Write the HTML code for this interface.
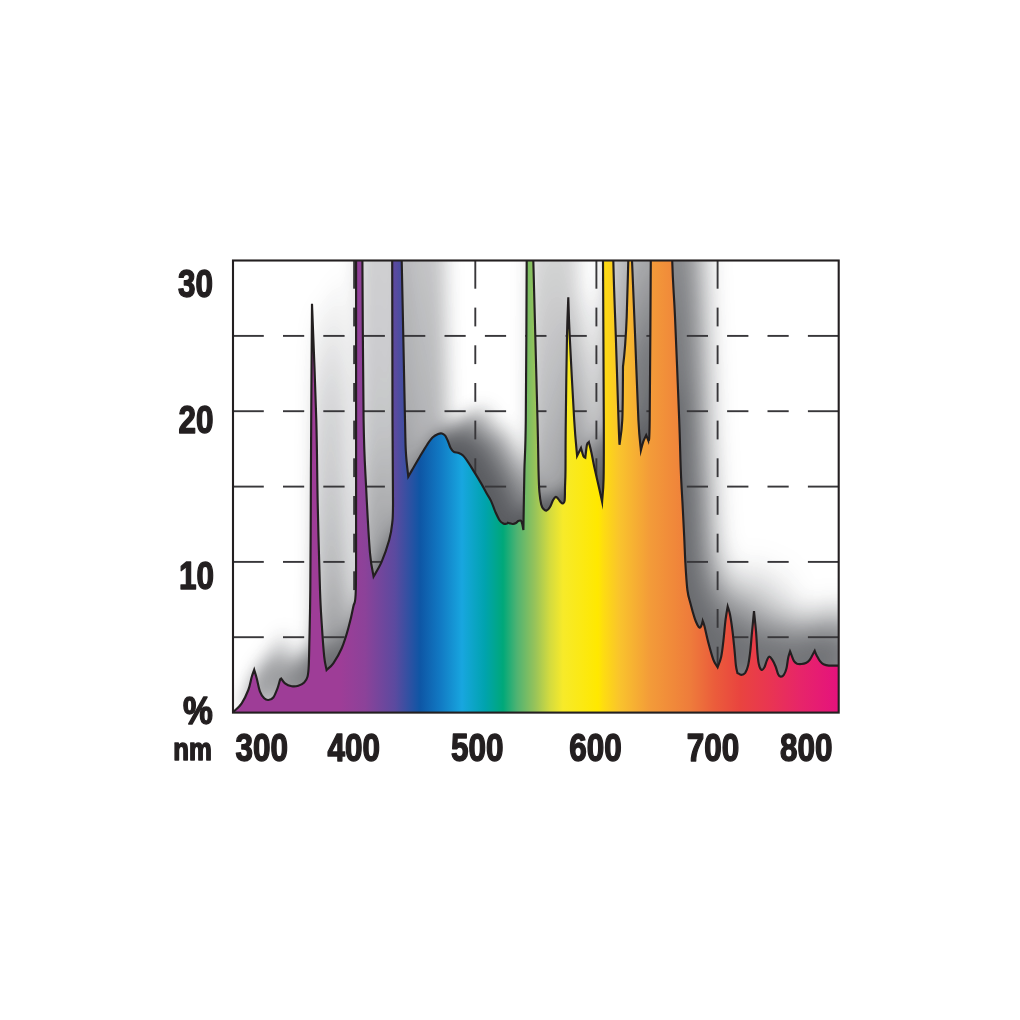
<!DOCTYPE html>
<html><head><meta charset="utf-8"><title>Spectrum</title>
<style>
html,body{margin:0;padding:0;background:#fff;}
body{width:1020px;height:1020px;overflow:hidden;position:relative;}
svg{position:absolute;left:0;top:0;display:block;}
text{font-family:"Liberation Sans",sans-serif;font-weight:bold;fill:#231f20;stroke:#231f20;stroke-linejoin:round;}
</style></head><body>
<svg width="1020" height="1020" viewBox="0 0 1020 1020">
<defs>
<linearGradient id="g" gradientUnits="userSpaceOnUse" x1="233.0" y1="0" x2="838.7" y2="0"><stop offset="0.0000" stop-color="#9e3d97"/><stop offset="0.1767" stop-color="#9e3d97"/><stop offset="0.2179" stop-color="#8c4299"/><stop offset="0.2675" stop-color="#5b4a9f"/><stop offset="0.3087" stop-color="#0e56a5"/><stop offset="0.3418" stop-color="#1179c3"/><stop offset="0.3781" stop-color="#18a6df"/><stop offset="0.4160" stop-color="#00a3ae"/><stop offset="0.4458" stop-color="#00a879"/><stop offset="0.4689" stop-color="#4fb372"/><stop offset="0.4986" stop-color="#97c35a"/><stop offset="0.5234" stop-color="#d4db3f"/><stop offset="0.5448" stop-color="#f7ea2a"/><stop offset="0.6026" stop-color="#ffe800"/><stop offset="0.6109" stop-color="#fedd10"/><stop offset="0.6389" stop-color="#f9c32d"/><stop offset="0.6885" stop-color="#f39b39"/><stop offset="0.7545" stop-color="#ee7c3b"/><stop offset="0.7958" stop-color="#eb5c3b"/><stop offset="0.8370" stop-color="#e9443f"/><stop offset="0.8866" stop-color="#e93552"/><stop offset="0.9361" stop-color="#e72569"/><stop offset="1.0000" stop-color="#e5127d"/></linearGradient>
<clipPath id="cp"><rect x="233.0" y="260.5" width="605.7" height="452.1"/></clipPath>
<path id="shp" d="M233.3 712.0C234.7 710.5 239.2 707.0 241.7 703.3C244.2 699.6 246.6 694.4 248.3 690.0C250.0 685.6 250.7 680.4 251.7 677.0C252.7 673.6 253.8 671.0 254.2 669.8C254.6 671.2 255.7 674.6 256.7 678.3C257.7 682.0 258.8 688.4 260.0 691.7C261.2 695.0 262.8 696.9 264.2 698.3C265.6 699.7 266.8 700.1 268.3 700.0C269.8 699.9 271.8 699.5 273.3 697.5C274.8 695.5 276.4 691.2 277.5 688.3C278.6 685.4 279.4 681.6 280.0 680.0C280.6 678.4 281.1 678.8 281.3 678.6C282.0 679.4 283.3 682.0 285.0 683.3C286.7 684.6 289.5 685.8 291.7 686.2C293.9 686.6 296.2 686.4 298.3 685.8C300.4 685.2 302.7 684.0 304.2 682.5C305.7 681.0 306.7 679.6 307.5 676.7C308.3 673.8 308.5 671.7 308.8 665.0C309.1 658.3 309.2 649.2 309.5 636.7C309.8 624.2 310.1 612.3 310.3 590.0C310.5 567.7 310.7 531.3 310.8 503.0C310.9 474.7 311.0 453.2 311.2 420.0C311.4 386.8 311.9 323.2 312.0 303.8C312.7 323.2 315.4 386.8 316.3 420.0C317.2 453.2 317.1 474.7 317.7 503.0C318.3 531.3 319.3 570.0 320.0 590.0C320.7 610.0 321.0 612.2 321.7 623.3C322.4 634.4 323.4 648.9 324.2 656.7C325.0 664.5 326.2 667.7 326.6 670.0C327.7 668.8 330.8 666.9 333.3 663.3C335.8 659.7 339.2 654.1 341.7 648.3C344.2 642.5 346.4 635.2 348.3 628.3C350.2 621.4 352.1 613.1 353.3 606.7C354.6 600.3 355.3 607.3 355.8 590.0C356.3 572.7 356.0 531.3 356.1 503.0C356.1 474.7 356.1 460.5 356.1 420.0C356.1 379.5 356.1 305.0 356.1 260.0C356.1 215.0 356.1 168.3 356.1 150.0L361.6 150.0C361.7 168.3 362.1 215.0 362.4 260.0C362.7 305.0 363.0 382.2 363.6 420.0C364.2 457.8 365.0 464.8 366.1 487.0C367.2 509.2 368.7 538.1 370.0 553.0C371.3 567.9 373.0 572.6 373.6 576.5C375.0 574.0 379.1 567.8 381.7 561.7C384.3 555.6 387.4 546.4 389.2 540.0C390.9 533.6 391.6 529.4 392.2 523.3C392.8 517.2 392.9 520.5 393.0 503.3C393.1 486.1 392.6 460.6 392.5 420.0C392.4 379.4 392.3 305.0 392.2 260.0C392.1 215.0 392.0 168.3 392.0 150.0L399.2 150.0C399.6 168.3 400.7 215.0 401.7 260.0C402.7 305.0 404.3 387.9 405.0 420.0C405.7 452.1 405.4 442.9 405.9 452.4C406.4 461.9 407.9 472.7 408.3 476.7C409.0 475.5 410.4 472.9 412.3 469.6C414.2 466.3 417.3 460.9 419.8 456.7C422.3 452.5 425.2 447.5 427.4 444.3C429.6 441.1 431.0 439.0 432.8 437.3C434.6 435.6 436.7 434.6 438.2 434.0C439.7 433.4 440.7 433.2 441.9 433.5C443.1 433.8 444.2 434.4 445.2 435.6C446.2 436.9 447.0 438.9 447.9 441.0C448.8 443.1 449.6 446.2 450.6 448.0C451.6 449.8 452.5 451.0 453.8 451.8C455.1 452.6 457.2 452.3 458.7 452.9C460.2 453.5 461.4 454.0 463.0 455.6C464.6 457.2 466.4 459.7 468.4 462.6C470.4 465.5 472.6 469.4 474.8 472.9C477.0 476.4 479.3 480.2 481.3 483.6C483.3 487.0 485.1 490.5 486.7 493.4C488.3 496.3 489.6 497.8 491.0 500.9C492.4 503.9 493.9 508.4 495.3 511.7C496.8 515.0 498.4 518.5 499.7 520.5C501.0 522.5 502.1 522.9 503.2 523.4C504.3 523.9 505.5 523.9 506.3 523.8C507.1 523.7 507.6 523.0 507.8 522.8C508.2 522.9 509.1 523.2 509.9 523.4C510.7 523.6 511.9 524.1 512.9 524.0C513.9 523.9 515.1 523.5 516.0 523.0C516.9 522.5 517.4 521.4 518.2 521.0C519.0 520.6 520.2 520.2 520.9 520.7C521.6 521.2 521.8 522.2 522.2 523.8C522.6 525.4 523.2 529.0 523.4 530.1C523.4 525.9 523.6 515.3 523.8 505.3C524.0 495.3 524.1 484.2 524.4 470.0C524.7 455.8 525.4 455.0 525.8 420.0C526.2 385.0 526.5 305.0 526.7 260.0C526.9 215.0 527.1 168.3 527.2 150.0L530.4 150.0C530.9 168.3 532.1 215.0 533.3 260.0C534.5 305.0 536.6 385.0 537.5 420.0C538.4 455.0 538.2 458.0 538.5 470.0C538.8 482.0 538.9 486.3 539.4 492.0C539.9 497.7 540.5 501.5 541.2 504.4C541.9 507.3 542.9 508.3 543.8 509.3C544.7 510.3 545.5 511.0 546.5 510.6C547.5 510.2 548.9 508.8 550.0 507.0C551.1 505.2 552.1 501.7 553.1 500.0C554.1 498.3 554.9 497.0 555.8 496.9C556.7 496.8 557.6 498.2 558.4 499.1C559.2 500.0 559.9 501.3 560.6 502.0C561.3 502.7 562.1 503.6 562.8 503.4C563.5 503.2 564.2 503.5 564.6 500.9C565.0 498.3 564.9 492.8 565.0 487.6C565.1 482.5 565.4 481.3 565.5 470.0C565.6 458.7 565.5 442.3 565.8 420.0C566.0 397.7 566.6 356.5 567.0 336.0C567.4 315.5 568.1 303.7 568.3 297.2C568.5 303.7 568.7 315.5 569.7 336.0C570.7 356.5 573.0 400.0 574.2 420.0C575.4 440.0 576.6 450.0 577.1 455.9L581.0 448.0C581.4 449.4 582.8 454.7 583.5 456.3C584.2 457.9 585.0 457.5 585.3 457.7C585.6 455.5 586.4 447.1 587.0 444.5C587.6 441.9 588.6 442.6 588.9 442.2C589.3 443.9 590.5 448.3 591.4 452.4C592.3 456.5 593.0 461.0 594.3 467.0C595.6 473.0 597.9 482.8 599.2 488.6C600.5 494.4 601.6 499.5 602.1 501.7C602.3 497.9 603.3 492.4 603.6 478.8C603.9 465.2 603.9 456.5 603.8 420.0C603.7 383.5 603.2 305.0 603.0 260.0C602.8 215.0 602.6 168.3 602.5 150.0L611.6 150.0C611.9 168.3 612.6 229.0 613.3 260.0C614.0 291.0 614.9 309.3 615.8 336.0C616.7 362.7 617.9 401.9 618.5 420.0C619.1 438.1 619.3 440.6 619.5 444.8C620.0 440.6 621.7 433.0 622.3 420.0C622.9 407.0 622.9 375.6 623.0 366.7C623.4 363.4 624.4 355.0 625.0 346.7C625.6 338.4 626.2 331.1 626.7 316.7C627.2 302.2 627.8 279.4 628.3 260.0C628.8 240.6 629.5 210.0 629.8 200.0L630.4 200.0C630.7 210.0 631.2 237.8 632.0 260.0C632.8 282.2 633.9 306.6 635.0 333.3C636.1 360.0 637.4 400.5 638.4 420.0C639.4 439.5 640.5 445.2 640.9 450.3C641.3 448.8 642.4 444.1 643.3 441.6C644.2 439.1 645.7 436.3 646.2 435.2L648.3 440.4C648.6 437.0 649.3 450.1 649.7 420.0C650.1 389.9 650.5 305.0 650.8 260.0C651.1 215.0 651.4 168.3 651.5 150.0L670.3 150.0C670.6 168.3 671.4 232.2 672.2 260.0C673.0 287.8 673.8 290.0 675.0 316.7C676.2 343.4 678.2 394.4 679.2 420.0C680.2 445.6 680.2 456.1 680.8 470.0C681.3 483.9 681.9 492.2 682.5 503.3C683.1 514.4 683.7 527.0 684.2 536.7C684.7 546.4 684.8 552.8 685.3 561.7C685.8 570.6 686.5 582.8 687.4 590.0C688.3 597.2 689.6 600.0 690.8 604.7C692.0 609.4 693.6 615.0 694.7 618.4C695.8 621.8 696.8 623.8 697.6 625.3C698.4 626.8 699.0 627.5 699.6 627.7C700.2 627.9 700.6 627.4 701.1 626.3C701.6 625.2 702.5 621.9 702.7 621.0C703.0 621.9 703.6 622.7 704.5 626.3C705.4 629.9 706.9 637.3 708.4 642.9C709.9 648.5 711.8 655.5 713.3 659.6C714.8 663.7 716.9 666.1 717.6 667.3C718.2 665.6 720.2 661.4 721.2 656.7C722.2 652.0 722.9 645.2 723.6 639.0C724.3 632.8 724.9 624.8 725.6 619.4C726.3 614.0 727.3 608.6 727.7 606.5C728.1 607.8 729.2 610.4 730.0 614.5C730.8 618.6 731.8 625.5 732.5 631.2C733.2 636.9 733.8 643.1 734.4 648.8C735.0 654.5 735.4 661.5 735.9 665.5C736.4 669.5 737.2 671.7 737.4 672.9C738.1 673.2 740.0 674.8 741.3 674.8C742.6 674.8 744.1 674.3 745.2 672.8C746.3 671.2 747.3 668.9 748.1 665.5C748.9 662.1 749.4 658.4 750.1 652.7C750.8 647.0 751.4 638.1 752.1 631.2C752.8 624.3 753.7 614.5 754.0 611.1C754.3 614.5 755.4 624.1 756.0 631.2C756.6 638.3 757.0 648.2 757.5 653.7C758.0 659.2 758.2 661.8 758.9 664.5C759.5 667.2 760.5 669.4 761.4 669.9C762.3 670.4 763.4 669.0 764.3 667.5C765.2 666.0 766.0 662.4 766.8 660.6C767.6 658.8 768.1 656.9 769.0 656.7C769.9 656.5 771.1 658.0 772.2 659.6C773.3 661.2 774.6 664.0 775.6 666.5C776.6 669.0 777.4 672.8 778.3 674.5C779.1 676.2 779.8 676.5 780.7 676.6C781.6 676.7 782.8 676.3 783.8 674.9C784.8 673.5 785.8 671.2 786.5 668.3C787.2 665.4 787.6 660.5 788.2 657.7C788.8 654.9 789.8 652.3 790.1 651.3C790.4 652.0 791.1 654.2 791.8 655.9C792.5 657.6 793.1 659.9 794.0 661.2C794.9 662.5 795.9 663.2 797.1 663.7C798.4 664.2 800.0 664.1 801.5 664.0C803.0 663.9 804.6 663.6 805.9 663.0C807.2 662.4 808.3 661.6 809.4 660.3C810.5 659.0 811.6 656.6 812.5 655.0C813.4 653.4 814.3 651.6 814.7 650.9C815.0 651.8 816.0 654.2 816.9 655.9C817.8 657.6 818.9 659.8 820.0 661.2C821.1 662.6 822.0 663.6 823.5 664.3C825.0 665.0 826.3 665.4 828.8 665.6C831.3 665.8 837.1 665.6 838.7 665.6L838.7 712.6L233 712.6Z"/>
<filter id="fza" filterUnits="userSpaceOnUse" x="100" y="100" width="880" height="780" color-interpolation-filters="sRGB">
<feOffset in="SourceGraphic" dx="1" dy="-1" result="o0"/><feComposite in="SourceGraphic" in2="o0" operator="arithmetic" k1="0" k2="0.5" k3="0.5" k4="0" result="a0"/>
<feOffset in="a0" dx="2" dy="-3" result="o1"/><feComposite in="a0" in2="o1" operator="arithmetic" k1="0" k2="0.5" k3="0.5" k4="0" result="a1"/>
<feOffset in="a1" dx="4" dy="-6" result="o2"/><feComposite in="a1" in2="o2" operator="arithmetic" k1="0" k2="0.5" k3="0.5" k4="0" result="a2"/>
<feOffset in="a2" dx="8" dy="-11" result="o3"/><feComposite in="a2" in2="o3" operator="arithmetic" k1="0" k2="0.5" k3="0.5" k4="0" result="a3"/>
<feOffset in="a3" dx="17" dy="-23" result="o4"/><feComposite in="a3" in2="o4" operator="arithmetic" k1="0" k2="0.5" k3="0.5" k4="0" result="a4"/>
<feGaussianBlur in="a4" stdDeviation="9"/><feComponentTransfer><feFuncA type="table" tableValues="0.000 0.060 0.118 0.172 0.223 0.271 0.316 0.358 0.397 0.432 0.465 0.494 0.521 0.544 0.564 0.581 0.595 0.606 0.614 0.618 0.620"/></feComponentTransfer>
</filter>
<clipPath id="cza"><rect x="233.0" y="260.5" width="164.0" height="452.1"/></clipPath>
<filter id="fzb" filterUnits="userSpaceOnUse" x="100" y="100" width="880" height="780" color-interpolation-filters="sRGB">
<feOffset in="SourceGraphic" dx="1" dy="-1" result="o0"/><feComposite in="SourceGraphic" in2="o0" operator="arithmetic" k1="0" k2="0.5" k3="0.5" k4="0" result="a0"/>
<feOffset in="a0" dx="3" dy="-2" result="o1"/><feComposite in="a0" in2="o1" operator="arithmetic" k1="0" k2="0.5" k3="0.5" k4="0" result="a1"/>
<feOffset in="a1" dx="6" dy="-3" result="o2"/><feComposite in="a1" in2="o2" operator="arithmetic" k1="0" k2="0.5" k3="0.5" k4="0" result="a2"/>
<feOffset in="a2" dx="12" dy="-8" result="o3"/><feComposite in="a2" in2="o3" operator="arithmetic" k1="0" k2="0.5" k3="0.5" k4="0" result="a3"/>
<feOffset in="a3" dx="24" dy="-14" result="o4"/><feComposite in="a3" in2="o4" operator="arithmetic" k1="0" k2="0.5" k3="0.5" k4="0" result="a4"/>
<feGaussianBlur in="a4" stdDeviation="9"/><feComponentTransfer><feFuncA type="table" tableValues="0.000 0.068 0.133 0.194 0.252 0.306 0.357 0.404 0.448 0.488 0.525 0.558 0.588 0.614 0.637 0.656 0.672 0.684 0.693 0.698 0.700"/></feComponentTransfer>
</filter>
<clipPath id="czb"><rect x="397.0" y="260.5" width="263.0" height="452.1"/></clipPath>
<filter id="fzc" filterUnits="userSpaceOnUse" x="100" y="100" width="880" height="780" color-interpolation-filters="sRGB">
<feOffset in="SourceGraphic" dx="1" dy="-2" result="o0"/><feComposite in="SourceGraphic" in2="o0" operator="arithmetic" k1="0" k2="0.5" k3="0.5" k4="0" result="a0"/>
<feOffset in="a0" dx="2" dy="-3" result="o1"/><feComposite in="a0" in2="o1" operator="arithmetic" k1="0" k2="0.5" k3="0.5" k4="0" result="a1"/>
<feOffset in="a1" dx="4" dy="-8" result="o2"/><feComposite in="a1" in2="o2" operator="arithmetic" k1="0" k2="0.5" k3="0.5" k4="0" result="a2"/>
<feOffset in="a2" dx="8" dy="-14" result="o3"/><feComposite in="a2" in2="o3" operator="arithmetic" k1="0" k2="0.5" k3="0.5" k4="0" result="a3"/>
<feOffset in="a3" dx="16" dy="-29" result="o4"/><feComposite in="a3" in2="o4" operator="arithmetic" k1="0" k2="0.5" k3="0.5" k4="0" result="a4"/>
<feGaussianBlur in="a4" stdDeviation="14"/><feComponentTransfer><feFuncA type="table" tableValues="0.000 0.062 0.122 0.178 0.230 0.280 0.326 0.370 0.410 0.446 0.480 0.510 0.538 0.562 0.582 0.600 0.614 0.626 0.634 0.638 0.640"/></feComponentTransfer>
</filter>
<clipPath id="czc"><rect x="660.0" y="260.5" width="178.70000000000005" height="452.1"/></clipPath>

</defs>
<rect x="0" y="0" width="1020" height="1020" fill="#fff"/>
<g clip-path="url(#cza)"><g filter="url(#fza)"><use href="#shp" fill="#13161c"/></g></g>
<g clip-path="url(#czb)"><g filter="url(#fzb)"><use href="#shp" fill="#13161c"/></g></g>
<g clip-path="url(#czc)"><g filter="url(#fzc)"><use href="#shp" fill="#13161c"/></g></g>

<g stroke="#38373a" stroke-width="1.9" fill="none"><line x1="233.0" y1="335.9" x2="263.8" y2="335.9"/><line x1="283.0" y1="335.9" x2="304.2" y2="335.9"/><line x1="323.3" y1="335.9" x2="344.6" y2="335.9"/><line x1="363.7" y1="335.9" x2="384.9" y2="335.9"/><line x1="404.1" y1="335.9" x2="425.3" y2="335.9"/><line x1="444.5" y1="335.9" x2="465.7" y2="335.9"/><line x1="484.9" y1="335.9" x2="506.1" y2="335.9"/><line x1="525.2" y1="335.9" x2="546.5" y2="335.9"/><line x1="565.6" y1="335.9" x2="586.8" y2="335.9"/><line x1="606.0" y1="335.9" x2="627.2" y2="335.9"/><line x1="646.4" y1="335.9" x2="667.6" y2="335.9"/><line x1="686.8" y1="335.9" x2="708.0" y2="335.9"/><line x1="727.1" y1="335.9" x2="748.4" y2="335.9"/><line x1="767.5" y1="335.9" x2="788.7" y2="335.9"/><line x1="807.9" y1="335.9" x2="838.7" y2="335.9"/><line x1="233.0" y1="411.2" x2="263.8" y2="411.2"/><line x1="283.0" y1="411.2" x2="304.2" y2="411.2"/><line x1="323.3" y1="411.2" x2="344.6" y2="411.2"/><line x1="363.7" y1="411.2" x2="384.9" y2="411.2"/><line x1="404.1" y1="411.2" x2="425.3" y2="411.2"/><line x1="444.5" y1="411.2" x2="465.7" y2="411.2"/><line x1="484.9" y1="411.2" x2="506.1" y2="411.2"/><line x1="525.2" y1="411.2" x2="546.5" y2="411.2"/><line x1="565.6" y1="411.2" x2="586.8" y2="411.2"/><line x1="606.0" y1="411.2" x2="627.2" y2="411.2"/><line x1="646.4" y1="411.2" x2="667.6" y2="411.2"/><line x1="686.8" y1="411.2" x2="708.0" y2="411.2"/><line x1="727.1" y1="411.2" x2="748.4" y2="411.2"/><line x1="767.5" y1="411.2" x2="788.7" y2="411.2"/><line x1="807.9" y1="411.2" x2="838.7" y2="411.2"/><line x1="233.0" y1="486.6" x2="263.8" y2="486.6"/><line x1="283.0" y1="486.6" x2="304.2" y2="486.6"/><line x1="323.3" y1="486.6" x2="344.6" y2="486.6"/><line x1="363.7" y1="486.6" x2="384.9" y2="486.6"/><line x1="404.1" y1="486.6" x2="425.3" y2="486.6"/><line x1="444.5" y1="486.6" x2="465.7" y2="486.6"/><line x1="484.9" y1="486.6" x2="506.1" y2="486.6"/><line x1="525.2" y1="486.6" x2="546.5" y2="486.6"/><line x1="565.6" y1="486.6" x2="586.8" y2="486.6"/><line x1="606.0" y1="486.6" x2="627.2" y2="486.6"/><line x1="646.4" y1="486.6" x2="667.6" y2="486.6"/><line x1="686.8" y1="486.6" x2="708.0" y2="486.6"/><line x1="727.1" y1="486.6" x2="748.4" y2="486.6"/><line x1="767.5" y1="486.6" x2="788.7" y2="486.6"/><line x1="807.9" y1="486.6" x2="838.7" y2="486.6"/><line x1="233.0" y1="561.9" x2="263.8" y2="561.9"/><line x1="283.0" y1="561.9" x2="304.2" y2="561.9"/><line x1="323.3" y1="561.9" x2="344.6" y2="561.9"/><line x1="363.7" y1="561.9" x2="384.9" y2="561.9"/><line x1="404.1" y1="561.9" x2="425.3" y2="561.9"/><line x1="444.5" y1="561.9" x2="465.7" y2="561.9"/><line x1="484.9" y1="561.9" x2="506.1" y2="561.9"/><line x1="525.2" y1="561.9" x2="546.5" y2="561.9"/><line x1="565.6" y1="561.9" x2="586.8" y2="561.9"/><line x1="606.0" y1="561.9" x2="627.2" y2="561.9"/><line x1="646.4" y1="561.9" x2="667.6" y2="561.9"/><line x1="686.8" y1="561.9" x2="708.0" y2="561.9"/><line x1="727.1" y1="561.9" x2="748.4" y2="561.9"/><line x1="767.5" y1="561.9" x2="788.7" y2="561.9"/><line x1="807.9" y1="561.9" x2="838.7" y2="561.9"/><line x1="233.0" y1="637.2" x2="263.8" y2="637.2"/><line x1="283.0" y1="637.2" x2="304.2" y2="637.2"/><line x1="323.3" y1="637.2" x2="344.6" y2="637.2"/><line x1="363.7" y1="637.2" x2="384.9" y2="637.2"/><line x1="404.1" y1="637.2" x2="425.3" y2="637.2"/><line x1="444.5" y1="637.2" x2="465.7" y2="637.2"/><line x1="484.9" y1="637.2" x2="506.1" y2="637.2"/><line x1="525.2" y1="637.2" x2="546.5" y2="637.2"/><line x1="565.6" y1="637.2" x2="586.8" y2="637.2"/><line x1="606.0" y1="637.2" x2="627.2" y2="637.2"/><line x1="646.4" y1="637.2" x2="667.6" y2="637.2"/><line x1="686.8" y1="637.2" x2="708.0" y2="637.2"/><line x1="727.1" y1="637.2" x2="748.4" y2="637.2"/><line x1="767.5" y1="637.2" x2="788.7" y2="637.2"/><line x1="807.9" y1="637.2" x2="838.7" y2="637.2"/><line x1="354.1" y1="260.5" x2="354.1" y2="288.7"/><line x1="354.1" y1="307.6" x2="354.1" y2="326.4"/><line x1="354.1" y1="345.3" x2="354.1" y2="364.1"/><line x1="354.1" y1="383.0" x2="354.1" y2="401.8"/><line x1="354.1" y1="420.6" x2="354.1" y2="439.4"/><line x1="354.1" y1="458.3" x2="354.1" y2="477.1"/><line x1="354.1" y1="496.0" x2="354.1" y2="514.8"/><line x1="354.1" y1="533.7" x2="354.1" y2="552.5"/><line x1="354.1" y1="571.3" x2="354.1" y2="590.1"/><line x1="354.1" y1="609.0" x2="354.1" y2="627.8"/><line x1="354.1" y1="646.7" x2="354.1" y2="665.5"/><line x1="354.1" y1="684.4" x2="354.1" y2="712.6"/><line x1="475.3" y1="260.5" x2="475.3" y2="288.7"/><line x1="475.3" y1="307.6" x2="475.3" y2="326.4"/><line x1="475.3" y1="345.3" x2="475.3" y2="364.1"/><line x1="475.3" y1="383.0" x2="475.3" y2="401.8"/><line x1="475.3" y1="420.6" x2="475.3" y2="439.4"/><line x1="475.3" y1="458.3" x2="475.3" y2="477.1"/><line x1="475.3" y1="496.0" x2="475.3" y2="514.8"/><line x1="475.3" y1="533.7" x2="475.3" y2="552.5"/><line x1="475.3" y1="571.3" x2="475.3" y2="590.1"/><line x1="475.3" y1="609.0" x2="475.3" y2="627.8"/><line x1="475.3" y1="646.7" x2="475.3" y2="665.5"/><line x1="475.3" y1="684.4" x2="475.3" y2="712.6"/><line x1="596.4" y1="260.5" x2="596.4" y2="288.7"/><line x1="596.4" y1="307.6" x2="596.4" y2="326.4"/><line x1="596.4" y1="345.3" x2="596.4" y2="364.1"/><line x1="596.4" y1="383.0" x2="596.4" y2="401.8"/><line x1="596.4" y1="420.6" x2="596.4" y2="439.4"/><line x1="596.4" y1="458.3" x2="596.4" y2="477.1"/><line x1="596.4" y1="496.0" x2="596.4" y2="514.8"/><line x1="596.4" y1="533.7" x2="596.4" y2="552.5"/><line x1="596.4" y1="571.3" x2="596.4" y2="590.1"/><line x1="596.4" y1="609.0" x2="596.4" y2="627.8"/><line x1="596.4" y1="646.7" x2="596.4" y2="665.5"/><line x1="596.4" y1="684.4" x2="596.4" y2="712.6"/><line x1="717.6" y1="260.5" x2="717.6" y2="288.7"/><line x1="717.6" y1="307.6" x2="717.6" y2="326.4"/><line x1="717.6" y1="345.3" x2="717.6" y2="364.1"/><line x1="717.6" y1="383.0" x2="717.6" y2="401.8"/><line x1="717.6" y1="420.6" x2="717.6" y2="439.4"/><line x1="717.6" y1="458.3" x2="717.6" y2="477.1"/><line x1="717.6" y1="496.0" x2="717.6" y2="514.8"/><line x1="717.6" y1="533.7" x2="717.6" y2="552.5"/><line x1="717.6" y1="571.3" x2="717.6" y2="590.1"/><line x1="717.6" y1="609.0" x2="717.6" y2="627.8"/><line x1="717.6" y1="646.7" x2="717.6" y2="665.5"/><line x1="717.6" y1="684.4" x2="717.6" y2="712.6"/></g>
<g clip-path="url(#cp)">
<path d="M233.3 712.0C234.7 710.5 239.2 707.0 241.7 703.3C244.2 699.6 246.6 694.4 248.3 690.0C250.0 685.6 250.7 680.4 251.7 677.0C252.7 673.6 253.8 671.0 254.2 669.8C254.6 671.2 255.7 674.6 256.7 678.3C257.7 682.0 258.8 688.4 260.0 691.7C261.2 695.0 262.8 696.9 264.2 698.3C265.6 699.7 266.8 700.1 268.3 700.0C269.8 699.9 271.8 699.5 273.3 697.5C274.8 695.5 276.4 691.2 277.5 688.3C278.6 685.4 279.4 681.6 280.0 680.0C280.6 678.4 281.1 678.8 281.3 678.6C282.0 679.4 283.3 682.0 285.0 683.3C286.7 684.6 289.5 685.8 291.7 686.2C293.9 686.6 296.2 686.4 298.3 685.8C300.4 685.2 302.7 684.0 304.2 682.5C305.7 681.0 306.7 679.6 307.5 676.7C308.3 673.8 308.5 671.7 308.8 665.0C309.1 658.3 309.2 649.2 309.5 636.7C309.8 624.2 310.1 612.3 310.3 590.0C310.5 567.7 310.7 531.3 310.8 503.0C310.9 474.7 311.0 453.2 311.2 420.0C311.4 386.8 311.9 323.2 312.0 303.8C312.7 323.2 315.4 386.8 316.3 420.0C317.2 453.2 317.1 474.7 317.7 503.0C318.3 531.3 319.3 570.0 320.0 590.0C320.7 610.0 321.0 612.2 321.7 623.3C322.4 634.4 323.4 648.9 324.2 656.7C325.0 664.5 326.2 667.7 326.6 670.0C327.7 668.8 330.8 666.9 333.3 663.3C335.8 659.7 339.2 654.1 341.7 648.3C344.2 642.5 346.4 635.2 348.3 628.3C350.2 621.4 352.1 613.1 353.3 606.7C354.6 600.3 355.3 607.3 355.8 590.0C356.3 572.7 356.0 531.3 356.1 503.0C356.1 474.7 356.1 460.5 356.1 420.0C356.1 379.5 356.1 305.0 356.1 260.0C356.1 215.0 356.1 168.3 356.1 150.0L361.6 150.0C361.7 168.3 362.1 215.0 362.4 260.0C362.7 305.0 363.0 382.2 363.6 420.0C364.2 457.8 365.0 464.8 366.1 487.0C367.2 509.2 368.7 538.1 370.0 553.0C371.3 567.9 373.0 572.6 373.6 576.5C375.0 574.0 379.1 567.8 381.7 561.7C384.3 555.6 387.4 546.4 389.2 540.0C390.9 533.6 391.6 529.4 392.2 523.3C392.8 517.2 392.9 520.5 393.0 503.3C393.1 486.1 392.6 460.6 392.5 420.0C392.4 379.4 392.3 305.0 392.2 260.0C392.1 215.0 392.0 168.3 392.0 150.0L399.2 150.0C399.6 168.3 400.7 215.0 401.7 260.0C402.7 305.0 404.3 387.9 405.0 420.0C405.7 452.1 405.4 442.9 405.9 452.4C406.4 461.9 407.9 472.7 408.3 476.7C409.0 475.5 410.4 472.9 412.3 469.6C414.2 466.3 417.3 460.9 419.8 456.7C422.3 452.5 425.2 447.5 427.4 444.3C429.6 441.1 431.0 439.0 432.8 437.3C434.6 435.6 436.7 434.6 438.2 434.0C439.7 433.4 440.7 433.2 441.9 433.5C443.1 433.8 444.2 434.4 445.2 435.6C446.2 436.9 447.0 438.9 447.9 441.0C448.8 443.1 449.6 446.2 450.6 448.0C451.6 449.8 452.5 451.0 453.8 451.8C455.1 452.6 457.2 452.3 458.7 452.9C460.2 453.5 461.4 454.0 463.0 455.6C464.6 457.2 466.4 459.7 468.4 462.6C470.4 465.5 472.6 469.4 474.8 472.9C477.0 476.4 479.3 480.2 481.3 483.6C483.3 487.0 485.1 490.5 486.7 493.4C488.3 496.3 489.6 497.8 491.0 500.9C492.4 503.9 493.9 508.4 495.3 511.7C496.8 515.0 498.4 518.5 499.7 520.5C501.0 522.5 502.1 522.9 503.2 523.4C504.3 523.9 505.5 523.9 506.3 523.8C507.1 523.7 507.6 523.0 507.8 522.8C508.2 522.9 509.1 523.2 509.9 523.4C510.7 523.6 511.9 524.1 512.9 524.0C513.9 523.9 515.1 523.5 516.0 523.0C516.9 522.5 517.4 521.4 518.2 521.0C519.0 520.6 520.2 520.2 520.9 520.7C521.6 521.2 521.8 522.2 522.2 523.8C522.6 525.4 523.2 529.0 523.4 530.1C523.4 525.9 523.6 515.3 523.8 505.3C524.0 495.3 524.1 484.2 524.4 470.0C524.7 455.8 525.4 455.0 525.8 420.0C526.2 385.0 526.5 305.0 526.7 260.0C526.9 215.0 527.1 168.3 527.2 150.0L530.4 150.0C530.9 168.3 532.1 215.0 533.3 260.0C534.5 305.0 536.6 385.0 537.5 420.0C538.4 455.0 538.2 458.0 538.5 470.0C538.8 482.0 538.9 486.3 539.4 492.0C539.9 497.7 540.5 501.5 541.2 504.4C541.9 507.3 542.9 508.3 543.8 509.3C544.7 510.3 545.5 511.0 546.5 510.6C547.5 510.2 548.9 508.8 550.0 507.0C551.1 505.2 552.1 501.7 553.1 500.0C554.1 498.3 554.9 497.0 555.8 496.9C556.7 496.8 557.6 498.2 558.4 499.1C559.2 500.0 559.9 501.3 560.6 502.0C561.3 502.7 562.1 503.6 562.8 503.4C563.5 503.2 564.2 503.5 564.6 500.9C565.0 498.3 564.9 492.8 565.0 487.6C565.1 482.5 565.4 481.3 565.5 470.0C565.6 458.7 565.5 442.3 565.8 420.0C566.0 397.7 566.6 356.5 567.0 336.0C567.4 315.5 568.1 303.7 568.3 297.2C568.5 303.7 568.7 315.5 569.7 336.0C570.7 356.5 573.0 400.0 574.2 420.0C575.4 440.0 576.6 450.0 577.1 455.9L581.0 448.0C581.4 449.4 582.8 454.7 583.5 456.3C584.2 457.9 585.0 457.5 585.3 457.7C585.6 455.5 586.4 447.1 587.0 444.5C587.6 441.9 588.6 442.6 588.9 442.2C589.3 443.9 590.5 448.3 591.4 452.4C592.3 456.5 593.0 461.0 594.3 467.0C595.6 473.0 597.9 482.8 599.2 488.6C600.5 494.4 601.6 499.5 602.1 501.7C602.3 497.9 603.3 492.4 603.6 478.8C603.9 465.2 603.9 456.5 603.8 420.0C603.7 383.5 603.2 305.0 603.0 260.0C602.8 215.0 602.6 168.3 602.5 150.0L611.6 150.0C611.9 168.3 612.6 229.0 613.3 260.0C614.0 291.0 614.9 309.3 615.8 336.0C616.7 362.7 617.9 401.9 618.5 420.0C619.1 438.1 619.3 440.6 619.5 444.8C620.0 440.6 621.7 433.0 622.3 420.0C622.9 407.0 622.9 375.6 623.0 366.7C623.4 363.4 624.4 355.0 625.0 346.7C625.6 338.4 626.2 331.1 626.7 316.7C627.2 302.2 627.8 279.4 628.3 260.0C628.8 240.6 629.5 210.0 629.8 200.0L630.4 200.0C630.7 210.0 631.2 237.8 632.0 260.0C632.8 282.2 633.9 306.6 635.0 333.3C636.1 360.0 637.4 400.5 638.4 420.0C639.4 439.5 640.5 445.2 640.9 450.3C641.3 448.8 642.4 444.1 643.3 441.6C644.2 439.1 645.7 436.3 646.2 435.2L648.3 440.4C648.6 437.0 649.3 450.1 649.7 420.0C650.1 389.9 650.5 305.0 650.8 260.0C651.1 215.0 651.4 168.3 651.5 150.0L670.3 150.0C670.6 168.3 671.4 232.2 672.2 260.0C673.0 287.8 673.8 290.0 675.0 316.7C676.2 343.4 678.2 394.4 679.2 420.0C680.2 445.6 680.2 456.1 680.8 470.0C681.3 483.9 681.9 492.2 682.5 503.3C683.1 514.4 683.7 527.0 684.2 536.7C684.7 546.4 684.8 552.8 685.3 561.7C685.8 570.6 686.5 582.8 687.4 590.0C688.3 597.2 689.6 600.0 690.8 604.7C692.0 609.4 693.6 615.0 694.7 618.4C695.8 621.8 696.8 623.8 697.6 625.3C698.4 626.8 699.0 627.5 699.6 627.7C700.2 627.9 700.6 627.4 701.1 626.3C701.6 625.2 702.5 621.9 702.7 621.0C703.0 621.9 703.6 622.7 704.5 626.3C705.4 629.9 706.9 637.3 708.4 642.9C709.9 648.5 711.8 655.5 713.3 659.6C714.8 663.7 716.9 666.1 717.6 667.3C718.2 665.6 720.2 661.4 721.2 656.7C722.2 652.0 722.9 645.2 723.6 639.0C724.3 632.8 724.9 624.8 725.6 619.4C726.3 614.0 727.3 608.6 727.7 606.5C728.1 607.8 729.2 610.4 730.0 614.5C730.8 618.6 731.8 625.5 732.5 631.2C733.2 636.9 733.8 643.1 734.4 648.8C735.0 654.5 735.4 661.5 735.9 665.5C736.4 669.5 737.2 671.7 737.4 672.9C738.1 673.2 740.0 674.8 741.3 674.8C742.6 674.8 744.1 674.3 745.2 672.8C746.3 671.2 747.3 668.9 748.1 665.5C748.9 662.1 749.4 658.4 750.1 652.7C750.8 647.0 751.4 638.1 752.1 631.2C752.8 624.3 753.7 614.5 754.0 611.1C754.3 614.5 755.4 624.1 756.0 631.2C756.6 638.3 757.0 648.2 757.5 653.7C758.0 659.2 758.2 661.8 758.9 664.5C759.5 667.2 760.5 669.4 761.4 669.9C762.3 670.4 763.4 669.0 764.3 667.5C765.2 666.0 766.0 662.4 766.8 660.6C767.6 658.8 768.1 656.9 769.0 656.7C769.9 656.5 771.1 658.0 772.2 659.6C773.3 661.2 774.6 664.0 775.6 666.5C776.6 669.0 777.4 672.8 778.3 674.5C779.1 676.2 779.8 676.5 780.7 676.6C781.6 676.7 782.8 676.3 783.8 674.9C784.8 673.5 785.8 671.2 786.5 668.3C787.2 665.4 787.6 660.5 788.2 657.7C788.8 654.9 789.8 652.3 790.1 651.3C790.4 652.0 791.1 654.2 791.8 655.9C792.5 657.6 793.1 659.9 794.0 661.2C794.9 662.5 795.9 663.2 797.1 663.7C798.4 664.2 800.0 664.1 801.5 664.0C803.0 663.9 804.6 663.6 805.9 663.0C807.2 662.4 808.3 661.6 809.4 660.3C810.5 659.0 811.6 656.6 812.5 655.0C813.4 653.4 814.3 651.6 814.7 650.9C815.0 651.8 816.0 654.2 816.9 655.9C817.8 657.6 818.9 659.8 820.0 661.2C821.1 662.6 822.0 663.6 823.5 664.3C825.0 665.0 826.3 665.4 828.8 665.6C831.3 665.8 837.1 665.6 838.7 665.6L838.7 712.6L233 712.6Z" fill="url(#g)"/>
<path d="M233.3 712.0C234.7 710.5 239.2 707.0 241.7 703.3C244.2 699.6 246.6 694.4 248.3 690.0C250.0 685.6 250.7 680.4 251.7 677.0C252.7 673.6 253.8 671.0 254.2 669.8C254.6 671.2 255.7 674.6 256.7 678.3C257.7 682.0 258.8 688.4 260.0 691.7C261.2 695.0 262.8 696.9 264.2 698.3C265.6 699.7 266.8 700.1 268.3 700.0C269.8 699.9 271.8 699.5 273.3 697.5C274.8 695.5 276.4 691.2 277.5 688.3C278.6 685.4 279.4 681.6 280.0 680.0C280.6 678.4 281.1 678.8 281.3 678.6C282.0 679.4 283.3 682.0 285.0 683.3C286.7 684.6 289.5 685.8 291.7 686.2C293.9 686.6 296.2 686.4 298.3 685.8C300.4 685.2 302.7 684.0 304.2 682.5C305.7 681.0 306.7 679.6 307.5 676.7C308.3 673.8 308.5 671.7 308.8 665.0C309.1 658.3 309.2 649.2 309.5 636.7C309.8 624.2 310.1 612.3 310.3 590.0C310.5 567.7 310.7 531.3 310.8 503.0C310.9 474.7 311.0 453.2 311.2 420.0C311.4 386.8 311.9 323.2 312.0 303.8C312.7 323.2 315.4 386.8 316.3 420.0C317.2 453.2 317.1 474.7 317.7 503.0C318.3 531.3 319.3 570.0 320.0 590.0C320.7 610.0 321.0 612.2 321.7 623.3C322.4 634.4 323.4 648.9 324.2 656.7C325.0 664.5 326.2 667.7 326.6 670.0C327.7 668.8 330.8 666.9 333.3 663.3C335.8 659.7 339.2 654.1 341.7 648.3C344.2 642.5 346.4 635.2 348.3 628.3C350.2 621.4 352.1 613.1 353.3 606.7C354.6 600.3 355.3 607.3 355.8 590.0C356.3 572.7 356.0 531.3 356.1 503.0C356.1 474.7 356.1 460.5 356.1 420.0C356.1 379.5 356.1 305.0 356.1 260.0C356.1 215.0 356.1 168.3 356.1 150.0L361.6 150.0C361.7 168.3 362.1 215.0 362.4 260.0C362.7 305.0 363.0 382.2 363.6 420.0C364.2 457.8 365.0 464.8 366.1 487.0C367.2 509.2 368.7 538.1 370.0 553.0C371.3 567.9 373.0 572.6 373.6 576.5C375.0 574.0 379.1 567.8 381.7 561.7C384.3 555.6 387.4 546.4 389.2 540.0C390.9 533.6 391.6 529.4 392.2 523.3C392.8 517.2 392.9 520.5 393.0 503.3C393.1 486.1 392.6 460.6 392.5 420.0C392.4 379.4 392.3 305.0 392.2 260.0C392.1 215.0 392.0 168.3 392.0 150.0L399.2 150.0C399.6 168.3 400.7 215.0 401.7 260.0C402.7 305.0 404.3 387.9 405.0 420.0C405.7 452.1 405.4 442.9 405.9 452.4C406.4 461.9 407.9 472.7 408.3 476.7C409.0 475.5 410.4 472.9 412.3 469.6C414.2 466.3 417.3 460.9 419.8 456.7C422.3 452.5 425.2 447.5 427.4 444.3C429.6 441.1 431.0 439.0 432.8 437.3C434.6 435.6 436.7 434.6 438.2 434.0C439.7 433.4 440.7 433.2 441.9 433.5C443.1 433.8 444.2 434.4 445.2 435.6C446.2 436.9 447.0 438.9 447.9 441.0C448.8 443.1 449.6 446.2 450.6 448.0C451.6 449.8 452.5 451.0 453.8 451.8C455.1 452.6 457.2 452.3 458.7 452.9C460.2 453.5 461.4 454.0 463.0 455.6C464.6 457.2 466.4 459.7 468.4 462.6C470.4 465.5 472.6 469.4 474.8 472.9C477.0 476.4 479.3 480.2 481.3 483.6C483.3 487.0 485.1 490.5 486.7 493.4C488.3 496.3 489.6 497.8 491.0 500.9C492.4 503.9 493.9 508.4 495.3 511.7C496.8 515.0 498.4 518.5 499.7 520.5C501.0 522.5 502.1 522.9 503.2 523.4C504.3 523.9 505.5 523.9 506.3 523.8C507.1 523.7 507.6 523.0 507.8 522.8C508.2 522.9 509.1 523.2 509.9 523.4C510.7 523.6 511.9 524.1 512.9 524.0C513.9 523.9 515.1 523.5 516.0 523.0C516.9 522.5 517.4 521.4 518.2 521.0C519.0 520.6 520.2 520.2 520.9 520.7C521.6 521.2 521.8 522.2 522.2 523.8C522.6 525.4 523.2 529.0 523.4 530.1C523.4 525.9 523.6 515.3 523.8 505.3C524.0 495.3 524.1 484.2 524.4 470.0C524.7 455.8 525.4 455.0 525.8 420.0C526.2 385.0 526.5 305.0 526.7 260.0C526.9 215.0 527.1 168.3 527.2 150.0L530.4 150.0C530.9 168.3 532.1 215.0 533.3 260.0C534.5 305.0 536.6 385.0 537.5 420.0C538.4 455.0 538.2 458.0 538.5 470.0C538.8 482.0 538.9 486.3 539.4 492.0C539.9 497.7 540.5 501.5 541.2 504.4C541.9 507.3 542.9 508.3 543.8 509.3C544.7 510.3 545.5 511.0 546.5 510.6C547.5 510.2 548.9 508.8 550.0 507.0C551.1 505.2 552.1 501.7 553.1 500.0C554.1 498.3 554.9 497.0 555.8 496.9C556.7 496.8 557.6 498.2 558.4 499.1C559.2 500.0 559.9 501.3 560.6 502.0C561.3 502.7 562.1 503.6 562.8 503.4C563.5 503.2 564.2 503.5 564.6 500.9C565.0 498.3 564.9 492.8 565.0 487.6C565.1 482.5 565.4 481.3 565.5 470.0C565.6 458.7 565.5 442.3 565.8 420.0C566.0 397.7 566.6 356.5 567.0 336.0C567.4 315.5 568.1 303.7 568.3 297.2C568.5 303.7 568.7 315.5 569.7 336.0C570.7 356.5 573.0 400.0 574.2 420.0C575.4 440.0 576.6 450.0 577.1 455.9L581.0 448.0C581.4 449.4 582.8 454.7 583.5 456.3C584.2 457.9 585.0 457.5 585.3 457.7C585.6 455.5 586.4 447.1 587.0 444.5C587.6 441.9 588.6 442.6 588.9 442.2C589.3 443.9 590.5 448.3 591.4 452.4C592.3 456.5 593.0 461.0 594.3 467.0C595.6 473.0 597.9 482.8 599.2 488.6C600.5 494.4 601.6 499.5 602.1 501.7C602.3 497.9 603.3 492.4 603.6 478.8C603.9 465.2 603.9 456.5 603.8 420.0C603.7 383.5 603.2 305.0 603.0 260.0C602.8 215.0 602.6 168.3 602.5 150.0L611.6 150.0C611.9 168.3 612.6 229.0 613.3 260.0C614.0 291.0 614.9 309.3 615.8 336.0C616.7 362.7 617.9 401.9 618.5 420.0C619.1 438.1 619.3 440.6 619.5 444.8C620.0 440.6 621.7 433.0 622.3 420.0C622.9 407.0 622.9 375.6 623.0 366.7C623.4 363.4 624.4 355.0 625.0 346.7C625.6 338.4 626.2 331.1 626.7 316.7C627.2 302.2 627.8 279.4 628.3 260.0C628.8 240.6 629.5 210.0 629.8 200.0L630.4 200.0C630.7 210.0 631.2 237.8 632.0 260.0C632.8 282.2 633.9 306.6 635.0 333.3C636.1 360.0 637.4 400.5 638.4 420.0C639.4 439.5 640.5 445.2 640.9 450.3C641.3 448.8 642.4 444.1 643.3 441.6C644.2 439.1 645.7 436.3 646.2 435.2L648.3 440.4C648.6 437.0 649.3 450.1 649.7 420.0C650.1 389.9 650.5 305.0 650.8 260.0C651.1 215.0 651.4 168.3 651.5 150.0L670.3 150.0C670.6 168.3 671.4 232.2 672.2 260.0C673.0 287.8 673.8 290.0 675.0 316.7C676.2 343.4 678.2 394.4 679.2 420.0C680.2 445.6 680.2 456.1 680.8 470.0C681.3 483.9 681.9 492.2 682.5 503.3C683.1 514.4 683.7 527.0 684.2 536.7C684.7 546.4 684.8 552.8 685.3 561.7C685.8 570.6 686.5 582.8 687.4 590.0C688.3 597.2 689.6 600.0 690.8 604.7C692.0 609.4 693.6 615.0 694.7 618.4C695.8 621.8 696.8 623.8 697.6 625.3C698.4 626.8 699.0 627.5 699.6 627.7C700.2 627.9 700.6 627.4 701.1 626.3C701.6 625.2 702.5 621.9 702.7 621.0C703.0 621.9 703.6 622.7 704.5 626.3C705.4 629.9 706.9 637.3 708.4 642.9C709.9 648.5 711.8 655.5 713.3 659.6C714.8 663.7 716.9 666.1 717.6 667.3C718.2 665.6 720.2 661.4 721.2 656.7C722.2 652.0 722.9 645.2 723.6 639.0C724.3 632.8 724.9 624.8 725.6 619.4C726.3 614.0 727.3 608.6 727.7 606.5C728.1 607.8 729.2 610.4 730.0 614.5C730.8 618.6 731.8 625.5 732.5 631.2C733.2 636.9 733.8 643.1 734.4 648.8C735.0 654.5 735.4 661.5 735.9 665.5C736.4 669.5 737.2 671.7 737.4 672.9C738.1 673.2 740.0 674.8 741.3 674.8C742.6 674.8 744.1 674.3 745.2 672.8C746.3 671.2 747.3 668.9 748.1 665.5C748.9 662.1 749.4 658.4 750.1 652.7C750.8 647.0 751.4 638.1 752.1 631.2C752.8 624.3 753.7 614.5 754.0 611.1C754.3 614.5 755.4 624.1 756.0 631.2C756.6 638.3 757.0 648.2 757.5 653.7C758.0 659.2 758.2 661.8 758.9 664.5C759.5 667.2 760.5 669.4 761.4 669.9C762.3 670.4 763.4 669.0 764.3 667.5C765.2 666.0 766.0 662.4 766.8 660.6C767.6 658.8 768.1 656.9 769.0 656.7C769.9 656.5 771.1 658.0 772.2 659.6C773.3 661.2 774.6 664.0 775.6 666.5C776.6 669.0 777.4 672.8 778.3 674.5C779.1 676.2 779.8 676.5 780.7 676.6C781.6 676.7 782.8 676.3 783.8 674.9C784.8 673.5 785.8 671.2 786.5 668.3C787.2 665.4 787.6 660.5 788.2 657.7C788.8 654.9 789.8 652.3 790.1 651.3C790.4 652.0 791.1 654.2 791.8 655.9C792.5 657.6 793.1 659.9 794.0 661.2C794.9 662.5 795.9 663.2 797.1 663.7C798.4 664.2 800.0 664.1 801.5 664.0C803.0 663.9 804.6 663.6 805.9 663.0C807.2 662.4 808.3 661.6 809.4 660.3C810.5 659.0 811.6 656.6 812.5 655.0C813.4 653.4 814.3 651.6 814.7 650.9C815.0 651.8 816.0 654.2 816.9 655.9C817.8 657.6 818.9 659.8 820.0 661.2C821.1 662.6 822.0 663.6 823.5 664.3C825.0 665.0 826.3 665.4 828.8 665.6C831.3 665.8 837.1 665.6 838.7 665.6" fill="none" stroke="#231f20" stroke-width="2.15" stroke-linejoin="miter" stroke-miterlimit="10"/>
</g>
<rect x="233.0" y="260.5" width="605.7" height="452.1" fill="none" stroke="#231f20" stroke-width="2.1"/>
<g font-size="39.3" stroke-width="1.5">
<text transform="translate(177.9 296.8) scale(0.80 1)">30</text>
<text transform="translate(178.4 433.4) scale(0.80 1)">20</text>
<text transform="translate(178.9 588.9) scale(0.80 1)">10</text>
<text transform="translate(183 724) scale(0.87 1)" font-size="38.5">%</text>
<text transform="translate(173.2 760.2) scale(0.83 1)" font-size="31" stroke-width="1.6">nm</text>
<text transform="translate(235.6 761) scale(0.80 1)">300</text>
<text transform="translate(327.6 761) scale(0.80 1)">400</text>
<text transform="translate(451 761) scale(0.80 1)">500</text>
<text transform="translate(569.3 761) scale(0.80 1)">600</text>
<text transform="translate(686.8 761) scale(0.80 1)">700</text>
<text transform="translate(780.1 761) scale(0.80 1)">800</text>
</g>
</svg>
</body></html>
